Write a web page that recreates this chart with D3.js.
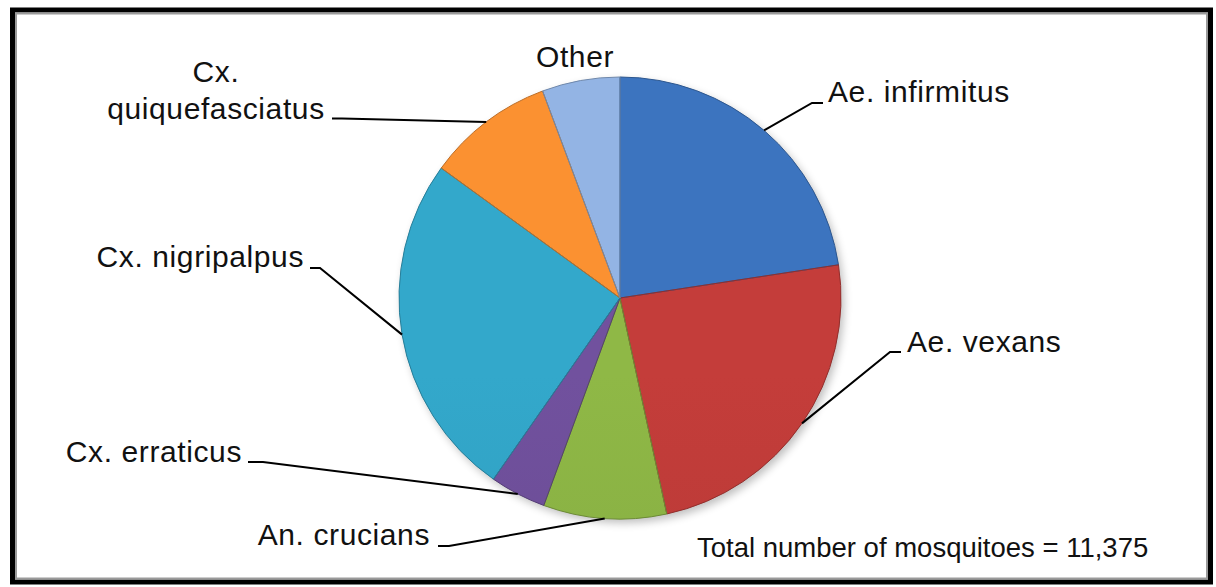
<!DOCTYPE html>
<html>
<head>
<meta charset="utf-8">
<script src="https://d3js.org/d3.v7.min.js"></script>
<style>
  body { margin: 0; background: #fff; }
  text { font-family: 'Liberation Sans', Arial, sans-serif; fill: #111; }
</style>
</head>
<body>
<script>
// data
var species = ["Ae. infirmitus", "Ae. vexans", "An. crucians", "Cx. erraticus",
               "Cx. nigripalpus", "Cx. quiquefasciatus", "Other"]
var counts = [2571, 2730, 1024, 466, 2878, 1058, 648]
var colors = ["#3a70b8", "#bd3b38", "#8ab244", "#6d4e98", "#31a2c4", "#f28c2f", "#8eaedc"]
var totalLabel = "Total number of mosquitoes = 11,375"

var width = 1216, height = 587
var cx = 620, cy = 298, radius = 221

// where each label sits (layout only)
var labelLayout = [
  {lines: ["Ae. infirmitus"], x: 828, y: 102, anchor: "start", elbow: [812, 103], end: [823, 103]},
  {lines: ["Ae. vexans"], x: 907, y: 352, anchor: "start", elbow: [890, 352], end: [901, 352]},
  {lines: ["An. crucians"], x: 430, y: 545, anchor: "end", elbow: [449, 546], end: [438, 546]},
  {lines: ["Cx. erraticus"], x: 242, y: 462, anchor: "end", elbow: [263, 462], end: [248, 462]},
  {lines: ["Cx. nigripalpus"], x: 304, y: 267, anchor: "end", elbow: [320, 268], end: [310, 268]},
  {lines: ["Cx.", "quiquefasciatus"], x: 216, y: 82, anchor: "middle", elbow: [342, 118.5], end: [332, 118.5]},
  {lines: ["Other"], x: 575, y: 67, anchor: "middle", elbow: null, end: null}
]

var svg = d3.select("body").append("svg")
    .attr("width", width)
    .attr("height", height)

var defs = svg.append("defs")

// soft shadow under the pie
var blur = defs.append("filter").attr("id", "shadow")
    .attr("x", "-20%").attr("y", "-20%").attr("width", "140%").attr("height", "140%")
blur.append("feGaussianBlur").attr("stdDeviation", 4)

// one vertical gradient per slice, lighter on top, darker at the bottom
colors.forEach(function(c, i) {
  var g = defs.append("linearGradient")
      .attr("id", "grad" + i)
      .attr("gradientUnits", "userSpaceOnUse")
      .attr("x1", 0).attr("y1", cy - radius)
      .attr("x2", 0).attr("y2", cy + radius)
  g.append("stop").attr("offset", "0%").attr("stop-color", d3.color(c).brighter(0.1))
  g.append("stop").attr("offset", "40%").attr("stop-color", c)
  g.append("stop").attr("offset", "100%").attr("stop-color", d3.color(c).darker(0.45))
})

// picture frame
svg.append("rect")
    .attr("x", 12.5).attr("y", 10)
    .attr("width", 1198).attr("height", 572)
    .attr("fill", "none")
    .attr("stroke", "#000")
    .attr("stroke-width", 5)
svg.append("rect")
    .attr("x", 16).attr("y", 13.5)
    .attr("width", 1191).attr("height", 565)
    .attr("fill", "none")
    .attr("stroke", "#9a9a9a")
    .attr("stroke-width", 2)

var pie = d3.pie().sort(null).value(function(d) { return d })
var arcs = pie(counts)

var arc = d3.arc().innerRadius(0).outerRadius(radius)
var edgeArc = d3.arc().innerRadius(radius).outerRadius(radius)

var g = svg.append("g").attr("transform", "translate(" + cx + "," + cy + ")")

g.append("circle")
    .attr("cx", 3).attr("cy", 4)
    .attr("r", radius)
    .attr("fill", "#000")
    .attr("opacity", 0.25)
    .attr("filter", "url(#shadow)")

arcs.forEach(function(a, i) {
  defs.append("clipPath").attr("id", "clip" + i)
      .append("path").attr("d", arc(a))
      .attr("transform", "translate(" + cx + "," + cy + ")")
})

g.selectAll("path.slice")
  .data(arcs)
  .enter().append("path")
    .attr("class", "slice")
    .attr("d", arc)
    .attr("fill", function(d, i) { return "url(#grad" + i + ")" })

// bevel highlight on the slice rims
svg.append("g").selectAll("path.rim")
  .data(arcs)
  .enter().append("path")
    .attr("class", "rim")
    .attr("transform", "translate(" + cx + "," + cy + ")")
    .attr("d", arc)
    .attr("fill", "none")
    .attr("stroke", "#fff")
    .attr("stroke-opacity", 0.25)
    .attr("stroke-width", 6)
    .attr("clip-path", function(d, i) { return "url(#clip" + i + ")" })

g.selectAll("path.edge")
  .data(arcs)
  .enter().append("path")
    .attr("class", "edge")
    .attr("d", arc)
    .attr("fill", "none")
    .attr("stroke", function(d, i) { return d3.color(colors[i]).darker(0.7) })
    .attr("stroke-width", 1)

// leader lines from the slice edge at its mid angle
labelLayout.forEach(function(l, i) {
  if (l.elbow) {
    var p = edgeArc.centroid(arcs[i])
    var pts = [[cx + p[0], cy + p[1]], l.elbow, l.end]
    svg.append("path")
        .attr("d", d3.line()(pts))
        .attr("fill", "none")
        .attr("stroke", "#000")
        .attr("stroke-width", 2)
  }
  var t = svg.append("text")
      .attr("x", l.x).attr("y", l.y)
      .attr("text-anchor", l.anchor)
      .style("font-size", "30px")
      .style("letter-spacing", "0.6px")
  l.lines.forEach(function(s, k) {
    t.append("tspan").attr("x", l.x).attr("dy", k == 0 ? 0 : 36.5).text(s)
  })
})

svg.append("text")
    .attr("x", 697).attr("y", 557)
    .style("font-size", "27.5px")
    .text(totalLabel)
</script>
</body>
</html>
